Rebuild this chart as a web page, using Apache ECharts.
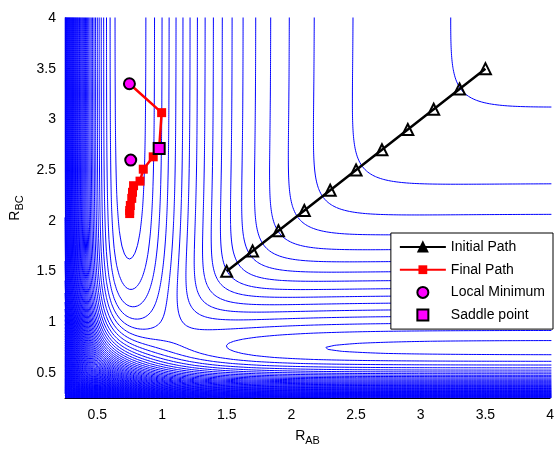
<!DOCTYPE html>
<html>
<head>
<meta charset="utf-8">
<script src="https://cdn.jsdelivr.net/npm/echarts@6/dist/echarts.min.js"></script>
<style>
  html, body { margin: 0; padding: 0; background: #fff; }
  #chart { width: 557px; height: 451px; }
</style>
</head>
<body>
<div id="chart"></div>
<script>
// Axis extents and tick labels
const AXIS_MIN = 0.25;
const AXIS_MAX = 4;
const X_TICKS = [0.5, 1, 1.5, 2, 2.5, 3, 3.5, 4];
const Y_TICKS = [0.5, 1, 1.5, 2, 2.5, 3, 3.5, 4];

// LEPS surface parameters, ordered AB, BC, AC
const LEPS_D = [4.746, 4.746, 3.445];
const LEPS_SATO = [0.05, 0.30, 0.05];
const LEPS_ALPHA = 1.942;
const LEPS_R0 = 0.742;

// Number of contour levels spread evenly between the surface min and max
const CONTOUR_COUNT = 150;
const GRID_STEP = 0.02;

// Paths and stationary points
const INITIAL_RAB = [1.5, 1.7, 1.9, 2.1, 2.3, 2.5, 2.7, 2.9, 3.1, 3.3, 3.5];
const INITIAL_RBC = [1.5, 1.7, 1.9, 2.1, 2.3, 2.5, 2.7, 2.9, 3.1, 3.3, 3.5];
const FINAL_RAB = [0.748, 0.997, 0.978, 0.932, 0.855, 0.83, 0.78, 0.772, 0.766, 0.755, 0.75, 0.75];
const FINAL_RBC = [3.351, 3.066, 2.712, 2.63, 2.508, 2.39, 2.345, 2.28, 2.22, 2.15, 2.10, 2.07];
const MIN_RAB = [0.748, 0.758];
const MIN_RBC = [3.351, 2.598];
const SADDLE_RAB = [0.978];
const SADDLE_RBC = [2.712];

const FONT = "'Liberation Sans', Arial, sans-serif";
const SQUARE = 'path://M0 0H10V10H0Z';

function coulomb(r, d) {
  const e1 = Math.exp(-LEPS_ALPHA * (r - LEPS_R0));
  return d / 2 * (1.5 * e1 * e1 - e1);
}
function exchange(r, d) {
  const e1 = Math.exp(-LEPS_ALPHA * (r - LEPS_R0));
  return d / 4 * (e1 * e1 - 6 * e1);
}
function leps(rab, rbc) {
  const r = [rab, rbc, rab + rbc];
  let q = 0;
  const j = [];
  for (let k = 0; k < 3; k++) {
    const s = 1 + LEPS_SATO[k];
    q += coulomb(r[k], LEPS_D[k]) / s;
    j.push(exchange(r[k], LEPS_D[k]) / s);
  }
  const disc = j[0] * j[0] + j[1] * j[1] + j[2] * j[2] - j[0] * j[1] - j[1] * j[2] - j[0] * j[2];
  return q - Math.sqrt(Math.max(disc, 0));
}

// Sample the surface on a regular grid
const n = Math.round((AXIS_MAX - AXIS_MIN) / GRID_STEP) + 1;
const gx = [];
for (let i = 0; i < n; i++) gx.push(AXIS_MIN + i * GRID_STEP);
const field = new Float64Array(n * n);
let vMin = Infinity, vMax = -Infinity;
for (let jy = 0; jy < n; jy++) {
  for (let ix = 0; ix < n; ix++) {
    const v = leps(gx[ix], gx[jy]);
    field[jy * n + ix] = v;
    if (v < vMin) vMin = v;
    if (v > vMax) vMax = v;
  }
}
const levels = [];
for (let k = 1; k <= CONTOUR_COUNT; k++) levels.push(vMin + (vMax - vMin) * k / (CONTOUR_COUNT + 1));

// Marching squares -> line segments in data coordinates
const segments = [];
function lerp(a, b, va, vb, lev) { return a + (b - a) * (lev - va) / (vb - va); }
for (const lev of levels) {
  for (let jy = 0; jy < n - 1; jy++) {
    const y0 = gx[jy], y1 = gx[jy + 1];
    for (let ix = 0; ix < n - 1; ix++) {
      const v00 = field[jy * n + ix], v10 = field[jy * n + ix + 1];
      const v01 = field[(jy + 1) * n + ix], v11 = field[(jy + 1) * n + ix + 1];
      const b0 = v00 > lev, b1 = v10 > lev, b2 = v11 > lev, b3 = v01 > lev;
      if (b0 === b1 && b1 === b2 && b2 === b3) continue;
      const x0 = gx[ix], x1 = gx[ix + 1];
      const pts = {};
      if (b0 !== b1) pts.e0 = [lerp(x0, x1, v00, v10, lev), y0];
      if (b1 !== b2) pts.e1 = [x1, lerp(y0, y1, v10, v11, lev)];
      if (b3 !== b2) pts.e2 = [lerp(x0, x1, v01, v11, lev), y1];
      if (b0 !== b3) pts.e3 = [x0, lerp(y0, y1, v00, v01, lev)];
      const keys = Object.keys(pts);
      if (keys.length === 2) {
        segments.push({ coords: [pts[keys[0]], pts[keys[1]]] });
      } else if (keys.length === 4) {
        const centre = (v00 + v10 + v01 + v11) / 4 > lev;
        if (centre === b0) {
          segments.push({ coords: [pts.e0, pts.e1] });
          segments.push({ coords: [pts.e2, pts.e3] });
        } else {
          segments.push({ coords: [pts.e0, pts.e3] });
          segments.push({ coords: [pts.e1, pts.e2] });
        }
      }
    }
  }
}

const zip = (a, b) => a.map((v, i) => [v, b[i]]);
const subscriptRich = {
  r: { fontSize: 14, fontFamily: FONT, color: '#000' },
  s: { fontSize: 11, fontFamily: FONT, color: '#000', padding: [9, 0, 0, 0] }
};

const chart = echarts.init(document.getElementById('chart'), null, { renderer: 'canvas' });
chart.setOption({
  animation: false,
  backgroundColor: '#ffffff',
  textStyle: { fontFamily: FONT },
  grid: { left: 65, right: 3, top: 18, bottom: 49, containLabel: false },
  xAxis: {
    type: 'value', min: AXIS_MIN, max: AXIS_MAX,
    name: '{r|R}{s|AB}', nameLocation: 'middle', nameGap: 28,
    nameTextStyle: { rich: subscriptRich },
    axisLine: { show: true, lineStyle: { color: '#000', width: 1 } },
    axisTick: { show: true, inside: true, length: 5, customValues: X_TICKS, lineStyle: { color: '#000' } },
    axisLabel: { customValues: X_TICKS, color: '#000', fontSize: 14, fontFamily: FONT, margin: 10 },
    splitLine: { show: false }
  },
  yAxis: {
    type: 'value', min: AXIS_MIN, max: AXIS_MAX,
    name: '{r|R}{s|BC}', nameLocation: 'middle', nameGap: 37, nameRotate: 90,
    nameTextStyle: { rich: subscriptRich },
    axisLine: { show: true, lineStyle: { color: '#000', width: 1 } },
    axisTick: { show: true, inside: true, length: 5, customValues: Y_TICKS, lineStyle: { color: '#000' } },
    axisLabel: { customValues: Y_TICKS, color: '#000', fontSize: 14, fontFamily: FONT, margin: 9 },
    splitLine: { show: false }
  },
  legend: {
    data: [
      { name: 'Initial Path', itemStyle: { color: '#000', borderColor: '#000' } },
      { name: 'Final Path' },
      { name: 'Local Minimum' },
      { name: 'Saddle point' }
    ],
    orient: 'vertical', right: 4, top: 233,
    backgroundColor: '#fff', borderColor: '#000', borderWidth: 1, borderRadius: 0,
    padding: [7, 8, 7, 8], itemGap: 8.7, itemWidth: 46, itemHeight: 11,
    textStyle: { fontSize: 14, fontFamily: FONT, color: '#000' },
    selectedMode: false, z: 10
  },
  series: [
    {
      name: 'contours', type: 'lines', coordinateSystem: 'cartesian2d',
      data: segments, large: true, largeThreshold: 100, progressive: 0,
      lineStyle: { color: '#0000ff', width: 1, opacity: 1 },
      silent: true, z: 1
    },
    {
      name: 'Initial Path', type: 'line', data: zip(INITIAL_RAB, INITIAL_RBC),
      symbol: 'triangle', symbolSize: 11,
      lineStyle: { color: '#000', width: 2.5 },
      itemStyle: { color: 'rgba(255,255,255,0)', borderColor: '#000', borderWidth: 2 },
      z: 5
    },
    {
      name: 'Final Path', type: 'line', data: zip(FINAL_RAB, FINAL_RBC),
      symbol: SQUARE, symbolSize: 9,
      lineStyle: { color: '#ff0000', width: 2.5 },
      itemStyle: { color: '#ff0000' },
      z: 6
    },
    {
      name: 'Local Minimum', type: 'scatter', data: zip(MIN_RAB, MIN_RBC),
      symbol: 'circle', symbolSize: 11,
      itemStyle: { color: '#ff00ff', borderColor: '#000', borderWidth: 2, opacity: 1 },
      z: 7
    },
    {
      name: 'Saddle point', type: 'scatter', data: zip(SADDLE_RAB, SADDLE_RBC),
      symbol: SQUARE, symbolSize: 11,
      itemStyle: { color: '#ff00ff', borderColor: '#000', borderWidth: 2, opacity: 1 },
      z: 7
    }
  ]
});
</script>
</body>
</html>
